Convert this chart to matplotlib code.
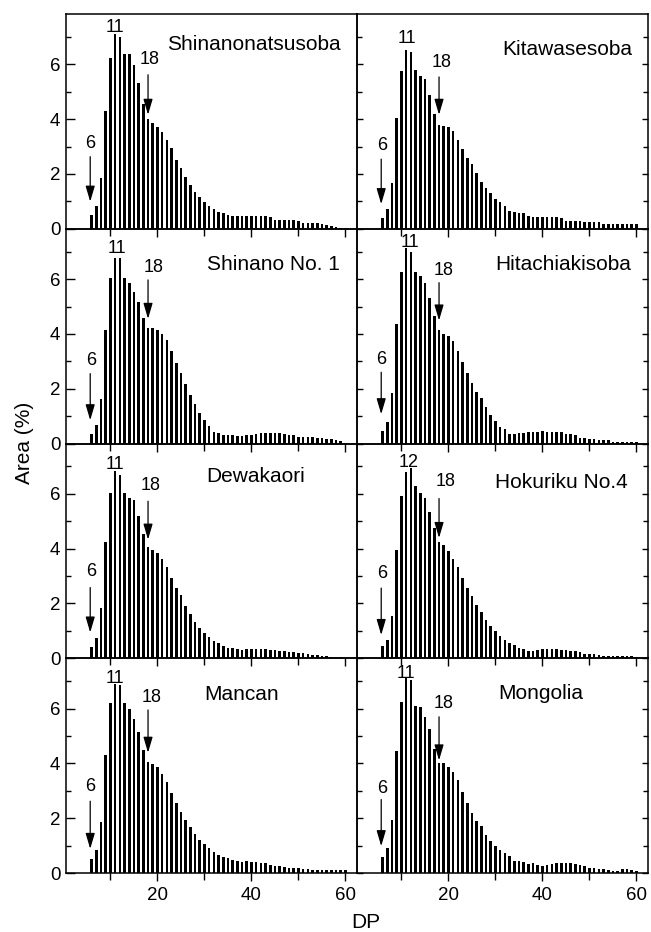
import numpy as np
import matplotlib
matplotlib.use("Agg")
import matplotlib.pyplot as plt
from matplotlib.ticker import MultipleLocator

plt.rcParams['font.family'] = ['Liberation Sans', 'DejaVu Sans']

dp = list(range(6, 61))

names = ["Shinanonatsusoba", "Kitawasesoba", "Shinano No. 1", "Hitachiakisoba",
         "Dewakaori", "Hokuriku No.4", "Mancan", "Mongolia"]

shinanonatsusoba = [0.52, 0.83, 1.84, 4.30, 6.23, 7.12, 7.00, 6.39, 6.38, 5.96,
                    5.32, 4.55, 4.00, 3.85, 3.71, 3.52, 3.23, 2.93, 2.50, 2.21,
                    1.89, 1.60, 1.35, 1.17, 0.99, 0.84, 0.72, 0.62, 0.56, 0.50,
                    0.48, 0.47, 0.46, 0.45, 0.45, 0.45, 0.45, 0.46, 0.42, 0.33,
                    0.32, 0.32, 0.32, 0.32, 0.30, 0.22, 0.20, 0.20, 0.20, 0.18,
                    0.14, 0.10, 0.08, 0.04, 0.02]
kitawasesoba = [0.38, 0.71, 1.68, 4.06, 5.77, 6.54, 6.45, 5.78, 5.59, 5.46,
                4.89, 4.18, 3.79, 3.76, 3.70, 3.57, 3.24, 2.90, 2.60, 2.37,
                2.02, 1.72, 1.48, 1.29, 1.09, 0.96, 0.83, 0.66, 0.61, 0.59,
                0.56, 0.45, 0.44, 0.43, 0.42, 0.42, 0.42, 0.42, 0.40, 0.30,
                0.30, 0.29, 0.28, 0.25, 0.25, 0.24, 0.24, 0.17, 0.17, 0.17,
                0.16, 0.17, 0.16, 0.17, 0.16]
shinano_no1 = [0.36, 0.66, 1.64, 4.15, 6.03, 6.77, 6.77, 6.04, 5.86, 5.52,
               5.16, 4.58, 4.21, 4.21, 4.15, 3.98, 3.76, 3.36, 2.94, 2.57,
               2.18, 1.78, 1.44, 1.10, 0.85, 0.63, 0.41, 0.40, 0.32, 0.30,
               0.30, 0.28, 0.28, 0.30, 0.32, 0.34, 0.38, 0.40, 0.38, 0.38,
               0.37, 0.34, 0.32, 0.30, 0.22, 0.22, 0.22, 0.22, 0.20, 0.20,
               0.18, 0.15, 0.12, 0.08, 0.03]
hitachiakisoba = [0.45, 0.79, 1.85, 4.36, 6.25, 7.12, 7.00, 6.25, 6.11, 5.87,
                  5.30, 4.64, 4.15, 4.00, 3.91, 3.73, 3.37, 2.97, 2.58, 2.22,
                  1.88, 1.65, 1.33, 1.04, 0.82, 0.62, 0.52, 0.36, 0.34, 0.38,
                  0.40, 0.42, 0.42, 0.43, 0.44, 0.43, 0.42, 0.42, 0.42, 0.36,
                  0.33, 0.30, 0.20, 0.20, 0.18, 0.16, 0.14, 0.14, 0.14, 0.07,
                  0.07, 0.07, 0.04, 0.04, 0.04]
dewakaori = [0.40, 0.74, 1.82, 4.24, 6.03, 6.82, 6.70, 6.03, 5.85, 5.76,
             5.18, 4.55, 4.06, 3.95, 3.85, 3.64, 3.33, 2.92, 2.58, 2.30,
             1.91, 1.61, 1.31, 1.09, 0.92, 0.76, 0.64, 0.56, 0.44, 0.39,
             0.36, 0.34, 0.31, 0.34, 0.35, 0.35, 0.35, 0.32, 0.30, 0.30,
             0.28, 0.27, 0.24, 0.22, 0.20, 0.18, 0.15, 0.13, 0.12, 0.10,
             0.08, 0.06, 0.04, 0.03, 0.02]
hokuriku_no4 = [0.43, 0.65, 1.56, 3.94, 5.91, 6.80, 6.93, 6.28, 6.04, 5.85,
                5.32, 4.77, 4.24, 4.12, 3.90, 3.63, 3.32, 2.93, 2.57, 2.26,
                1.95, 1.68, 1.40, 1.16, 0.98, 0.83, 0.68, 0.55, 0.49, 0.37,
                0.32, 0.26, 0.28, 0.30, 0.32, 0.32, 0.32, 0.32, 0.31, 0.30,
                0.27, 0.25, 0.22, 0.17, 0.15, 0.14, 0.13, 0.10, 0.10, 0.10,
                0.10, 0.10, 0.10, 0.08, 0.06]
mancan = [0.51, 0.83, 1.85, 4.29, 6.20, 6.88, 6.85, 6.20, 5.98, 5.61,
          5.16, 4.48, 4.05, 3.96, 3.87, 3.63, 3.32, 2.93, 2.56, 2.22,
          1.93, 1.68, 1.44, 1.20, 1.07, 0.91, 0.77, 0.67, 0.57, 0.54,
          0.49, 0.45, 0.41, 0.43, 0.39, 0.39, 0.38, 0.36, 0.30, 0.27,
          0.25, 0.22, 0.20, 0.18, 0.17, 0.15, 0.14, 0.12, 0.12, 0.12,
          0.10, 0.10, 0.10, 0.10, 0.10]
mongolia = [0.57, 0.91, 1.93, 4.45, 6.24, 7.15, 7.05, 6.10, 6.06, 5.70,
            5.27, 4.51, 4.02, 4.02, 3.87, 3.68, 3.39, 2.95, 2.54, 2.20,
            1.91, 1.71, 1.40, 1.16, 0.98, 0.83, 0.73, 0.63, 0.45, 0.43,
            0.39, 0.33, 0.37, 0.30, 0.24, 0.30, 0.32, 0.37, 0.38, 0.37,
            0.36, 0.32, 0.28, 0.25, 0.20, 0.17, 0.15, 0.13, 0.10, 0.08,
            0.08, 0.13, 0.15, 0.12, 0.06]

series = [shinanonatsusoba, kitawasesoba, shinano_no1, hitachiakisoba,
          dewakaori, hokuriku_no4, mancan, mongolia]

peak_labels = ["11", "11", "11", "11", "11", "12", "11", "11"]
arrow_labels = ["6", "18"]
arrow_dp = [6, 18]

x_ticks = [20, 40, 60]
y_ticks = [0, 2, 4, 6]

# layout (positions only)
peak_pos = [(10.9, 7.36), (11.2, 6.96), (11.3, 7.10), (11.9, 7.32),
            (11.0, 7.07), (11.5, 7.15), (11.0, 7.10), (11.0, 7.27)]
lab18_pos = [(18.4, 6.17), (18.6, 6.05), (19.2, 6.43), (18.9, 6.33),
             (18.6, 6.30), (19.5, 6.44), (18.7, 6.40), (18.9, 6.18)]
arr18 = [(5.62, 4.16), (5.54, 4.16), (5.97, 4.55), (5.87, 4.49),
         (5.73, 4.33), (5.83, 4.39), (5.95, 4.39), (5.70, 4.11)]
lab6_pos = [(5.7, 3.12), (5.9, 3.04), (5.9, 3.03), (5.8, 3.06),
            (5.9, 3.15), (5.9, 3.09), (5.8, 3.17), (5.9, 3.10)]
arr6 = [(2.63, 0.99), (2.54, 0.90), (2.55, 0.85), (2.60, 1.07),
        (2.58, 0.94), (2.56, 0.85), (2.62, 0.88), (2.68, 0.98)]
name_pos = [(40.6, 6.72), (45.2, 6.56), (44.7, 6.55), (44.5, 6.55),
            (40.9, 6.63), (44.1, 6.41), (38.0, 6.52), (39.6, 6.55)]

W, H = 651, 932
fig = plt.figure(figsize=(W / 100, H / 100), dpi=100)

left_px = [66, 357]
col_w = 291
top_px = 14
row_h = (873 - 14) / 4.0

arrowprops = dict(arrowstyle='-|>,head_length=0.95,head_width=0.28',
                  color='black', lw=0.9, shrinkA=0, shrinkB=0,
                  mutation_scale=10)

for i in range(8):
    r, c = divmod(i, 2)
    x0 = left_px[c] / W
    y0 = (H - (top_px + (r + 1) * row_h)) / H
    ax = fig.add_axes([x0, y0, col_w / W, row_h / H])
    ax.patch.set_visible(False)
    ax.bar(dp, series[i], width=0.55, color='black', linewidth=0)
    ax.set_xlim(0.55, 62.45)
    ax.set_ylim(0, row_h / 27.4)
    ax.set_xticks(x_ticks)
    ax.xaxis.set_minor_locator(MultipleLocator(10))
    ax.set_yticks(y_ticks)
    ax.yaxis.set_minor_locator(MultipleLocator(1))
    ax.tick_params(axis='x', which='major', direction='out', length=6, width=1.0)
    ax.tick_params(axis='x', which='minor', direction='out', length=5, width=1.0)
    if c == 0:
        ax.tick_params(axis='y', which='major', direction='in', length=6.5, width=1.0,
                       left=True, right=False)
        ax.tick_params(axis='y', which='minor', direction='in', length=3.5, width=1.0,
                       left=True, right=False)
    else:
        ax.tick_params(axis='y', which='major', direction='in', length=4, width=1.0,
                       left=True, right=True, labelleft=False)
        ax.tick_params(axis='y', which='minor', direction='in', length=3.5, width=1.0,
                       left=True, right=True)
    ax.tick_params(axis='both', labelsize=13.5, pad=4)
    if r < 3:
        ax.tick_params(axis='x', labelbottom=False)
    for s in ax.spines.values():
        s.set_linewidth(1.1)

    ax.text(peak_pos[i][0], peak_pos[i][1], peak_labels[i], ha='center', va='center',
            fontsize=13)
    ax.text(lab18_pos[i][0], lab18_pos[i][1], arrow_labels[1], ha='center', va='center',
            fontsize=13)
    ax.annotate('', xy=(arrow_dp[1], arr18[i][1]), xytext=(arrow_dp[1], arr18[i][0]),
                arrowprops=arrowprops)
    ax.text(lab6_pos[i][0], lab6_pos[i][1], arrow_labels[0], ha='center', va='center',
            fontsize=13)
    ax.annotate('', xy=(arrow_dp[0] - 0.3, arr6[i][1]), xytext=(arrow_dp[0] - 0.3, arr6[i][0]),
                arrowprops=arrowprops)
    ax.text(name_pos[i][0], name_pos[i][1], names[i], ha='center', va='center',
            fontsize=15)

fig.text(24 / W, 1 - 443 / H, "Area (%)", rotation=90, ha='center', va='center', fontsize=15)
fig.text(366 / W, 1 - 922 / H, "DP", ha='center', va='center', fontsize=15)

fig.savefig("out.png", dpi=100)
